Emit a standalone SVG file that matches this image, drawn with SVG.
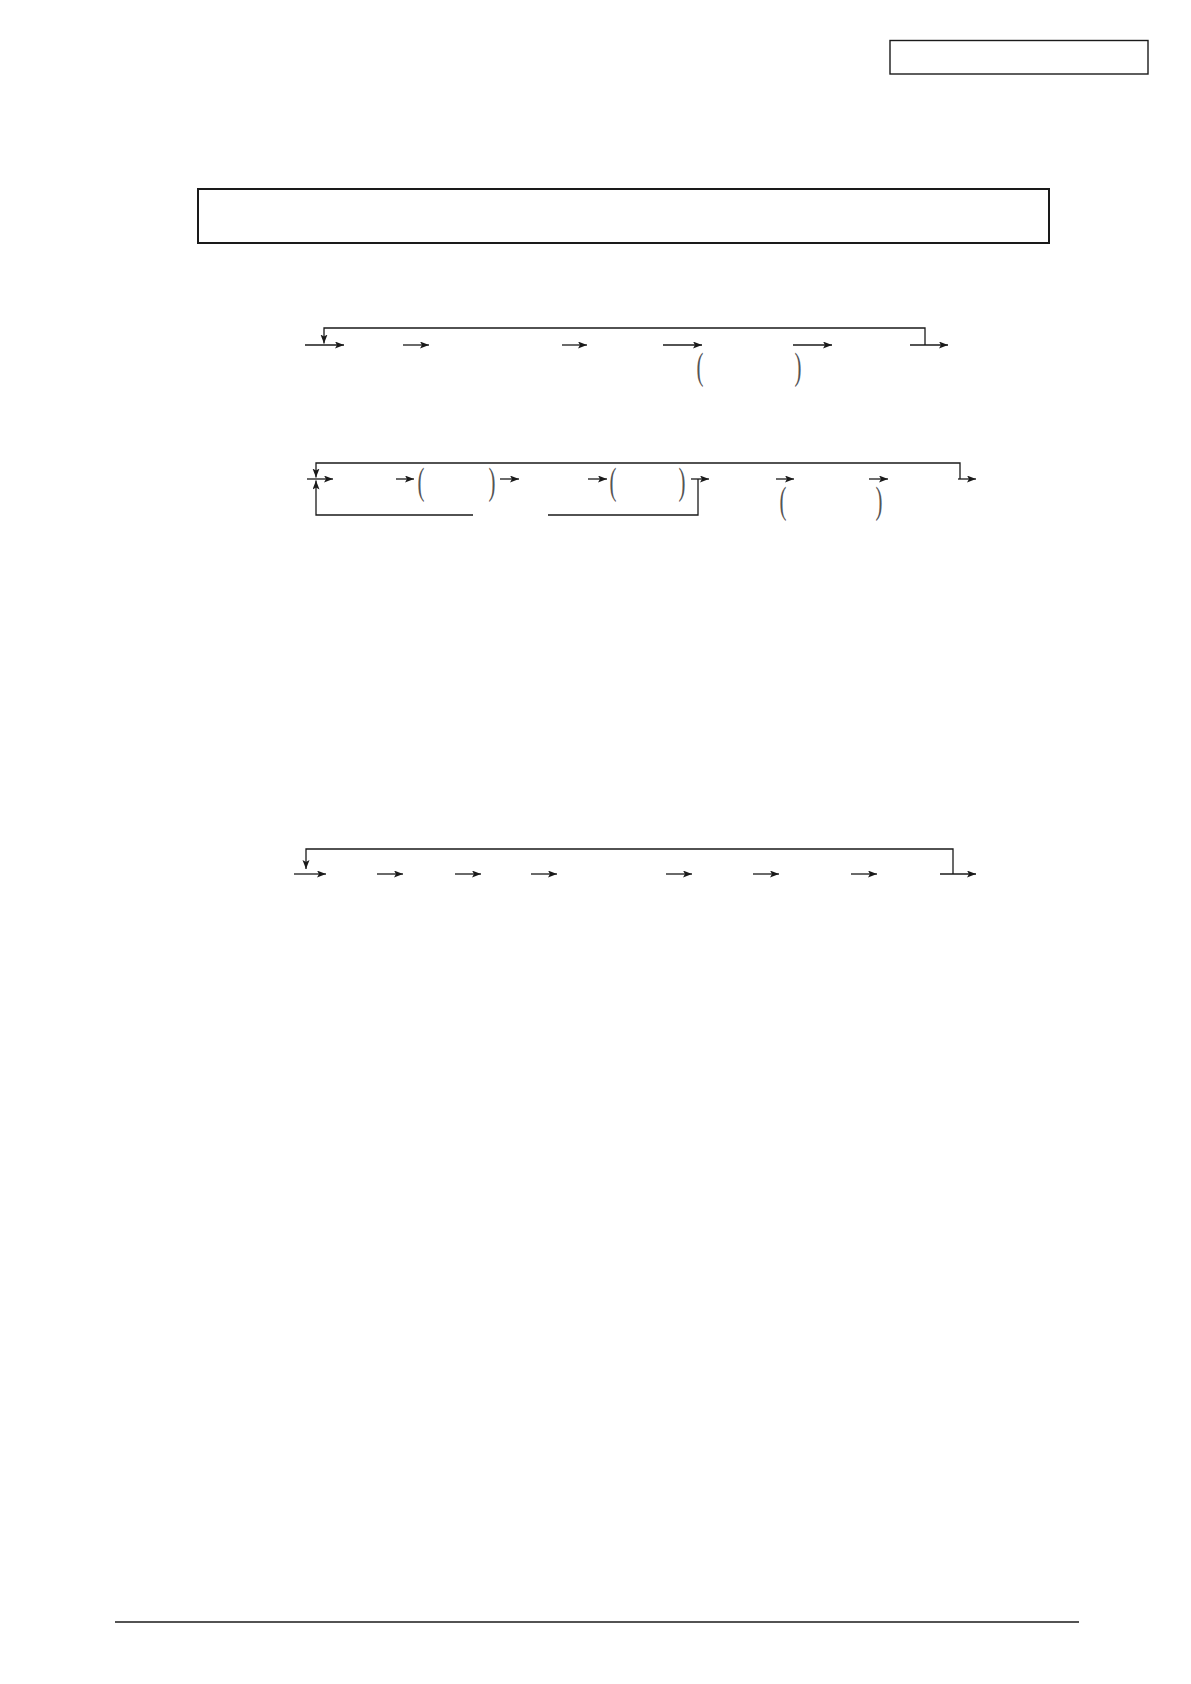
<svg xmlns="http://www.w3.org/2000/svg" width="1191" height="1684" viewBox="0 0 1191 1684">
<style>
.frame{fill:none;stroke:#1a1a1a}
.ln{fill:none;stroke:#1a1a1a;stroke-width:1.3}
.ar{fill:none;stroke:#1a1a1a;stroke-width:1.3;marker-end:url(#ah)}
.par{font-family:"Liberation Serif",serif;font-size:38px;fill:#555;text-anchor:middle}
</style>
<defs>
<marker id="ah" markerUnits="userSpaceOnUse" markerWidth="11" markerHeight="8" refX="9" refY="3.5" orient="auto">
<path d="M0,0 L9,3.5 L0,7 L2,3.5 z" fill="#1a1a1a"/>
</marker>
</defs>
<rect width="1191" height="1684" fill="#fff"/>
<g id="page-tag"><rect class="frame" x="890" y="40.5" width="258" height="33.5" stroke-width="1.4"/></g>
<g id="title-box"><rect class="frame" x="198" y="189" width="851" height="54" stroke-width="2"/></g>
<g id="footer-rule"><line x1="115" y1="1622" x2="1079" y2="1622" stroke="#1a1a1a" stroke-width="1.3"/></g>

<g id="connectors">
<!-- row 1 -->
<path class="ar" d="M925,345 V328 H324 V343.5"/>
<line class="ar" x1="305" y1="345" x2="344" y2="345"/>
<line class="ar" x1="403" y1="345" x2="429" y2="345"/>
<line class="ar" x1="562" y1="345" x2="587" y2="345"/>
<line class="ar" x1="663" y1="345" x2="702" y2="345"/>
<line class="ar" x1="793" y1="345" x2="832" y2="345"/>
<line class="ar" x1="910" y1="345" x2="948" y2="345"/>
<!-- row 2 -->
<path class="ar" d="M960,479 V463 H316 V477.5"/>
<path class="ar" d="M473,515 H316 V480.5"/>
<path class="ln" d="M548,515 H698 V479"/>
<line class="ar" x1="307" y1="479" x2="333" y2="479"/>
<line class="ar" x1="396" y1="479" x2="414" y2="479"/>
<line class="ar" x1="500" y1="479" x2="519" y2="479"/>
<line class="ar" x1="588" y1="479" x2="607" y2="479"/>
<line class="ar" x1="691" y1="479" x2="709" y2="479"/>
<line class="ar" x1="776" y1="479" x2="794" y2="479"/>
<line class="ar" x1="869" y1="479" x2="888" y2="479"/>
<line class="ar" x1="958" y1="479" x2="976" y2="479"/>
<!-- row 3 -->
<path class="ar" d="M953,874 V849 H306 V869"/>
<line class="ar" x1="294" y1="874" x2="326" y2="874"/>
<line class="ar" x1="377" y1="874" x2="403" y2="874"/>
<line class="ar" x1="455" y1="874" x2="481" y2="874"/>
<line class="ar" x1="531" y1="874" x2="557" y2="874"/>
<line class="ar" x1="666" y1="874" x2="692" y2="874"/>
<line class="ar" x1="753" y1="874" x2="779" y2="874"/>
<line class="ar" x1="851" y1="874" x2="877" y2="874"/>
<line class="ar" x1="940" y1="874" x2="976" y2="874"/>
</g>

<g id="brackets">
<text class="par" transform="translate(700,379) scale(0.55,1)">(</text>
<text class="par" transform="translate(798,379) scale(0.55,1)">)</text>
<text class="par" transform="translate(421,494) scale(0.55,1)">(</text>
<text class="par" transform="translate(492,494) scale(0.55,1)">)</text>
<text class="par" transform="translate(613,494) scale(0.55,1)">(</text>
<text class="par" transform="translate(682,494) scale(0.55,1)">)</text>
<text class="par" transform="translate(783,513) scale(0.55,1)">(</text>
<text class="par" transform="translate(879,513) scale(0.55,1)">)</text>
</g>
</svg>
